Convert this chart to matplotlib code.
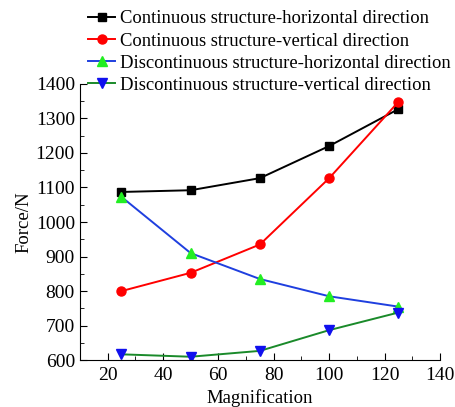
import numpy as np
import matplotlib.pyplot as plt

plt.rcParams['font.family'] = ['Liberation Serif', 'DejaVu Serif']

magnification = [25, 50, 75, 100, 125]
cont_horizontal = [1087, 1092, 1127, 1220, 1327]
cont_vertical = [800, 853, 935, 1127, 1348]
disc_horizontal = [1073, 910, 835, 785, 755]
disc_vertical = [617, 610, 627, 687, 738]

labels = ['Continuous structure-horizontal direction',
          'Continuous structure-vertical direction',
          'Discontinuous structure-horizontal direction',
          'Discontinuous structure-vertical direction']

fig = plt.figure(figsize=(4.56, 4.07), dpi=100)
ax = fig.add_axes([0.175, 0.115, 0.79, 0.679])

ax.plot(magnification, cont_horizontal, color='black', marker='s', ms=6, lw=1.4, label=labels[0])
ax.plot(magnification, cont_vertical, color='red', marker='o', ms=6.5, lw=1.4, label=labels[1])
ax.plot(magnification, disc_horizontal, color='#1f3fdf', marker='^', ms=7,
        mfc='#22ee22', mec='#22ee22', lw=1.4, label=labels[2])
ax.plot(magnification, disc_vertical, color='#1a8a2a', marker='v', ms=7,
        mfc='#1010ee', mec='#1010ee', lw=1.4, label=labels[3])

ax.set_xlim(10, 140)
ax.set_ylim(600, 1400)
ax.set_xticks([20, 40, 60, 80, 100, 120, 140])
ax.set_yticks(np.arange(600, 1401, 100))
ax.set_xticks(np.arange(30, 140, 20), minor=True)
ax.set_yticks(np.arange(650, 1400, 100), minor=True)
ax.tick_params(which='both', direction='in', labelsize=14)
ax.tick_params(which='major', length=5)
ax.tick_params(which='minor', length=3)
ax.tick_params(axis='x', pad=5)
ax.spines['top'].set_visible(False)
ax.spines['right'].set_visible(False)
ax.set_xlabel('Magnification', fontsize=13.5, labelpad=3.5)
ax.set_ylabel('Force/N', fontsize=13.5, labelpad=2)

fig.legend(loc='upper left', bbox_to_anchor=(0.181, 0.988), frameon=False,
           fontsize=13.4, handlelength=1.45, handletextpad=0.27, labelspacing=0.27,
           borderaxespad=0, borderpad=0.3)

fig.savefig('out.png', dpi=100)
